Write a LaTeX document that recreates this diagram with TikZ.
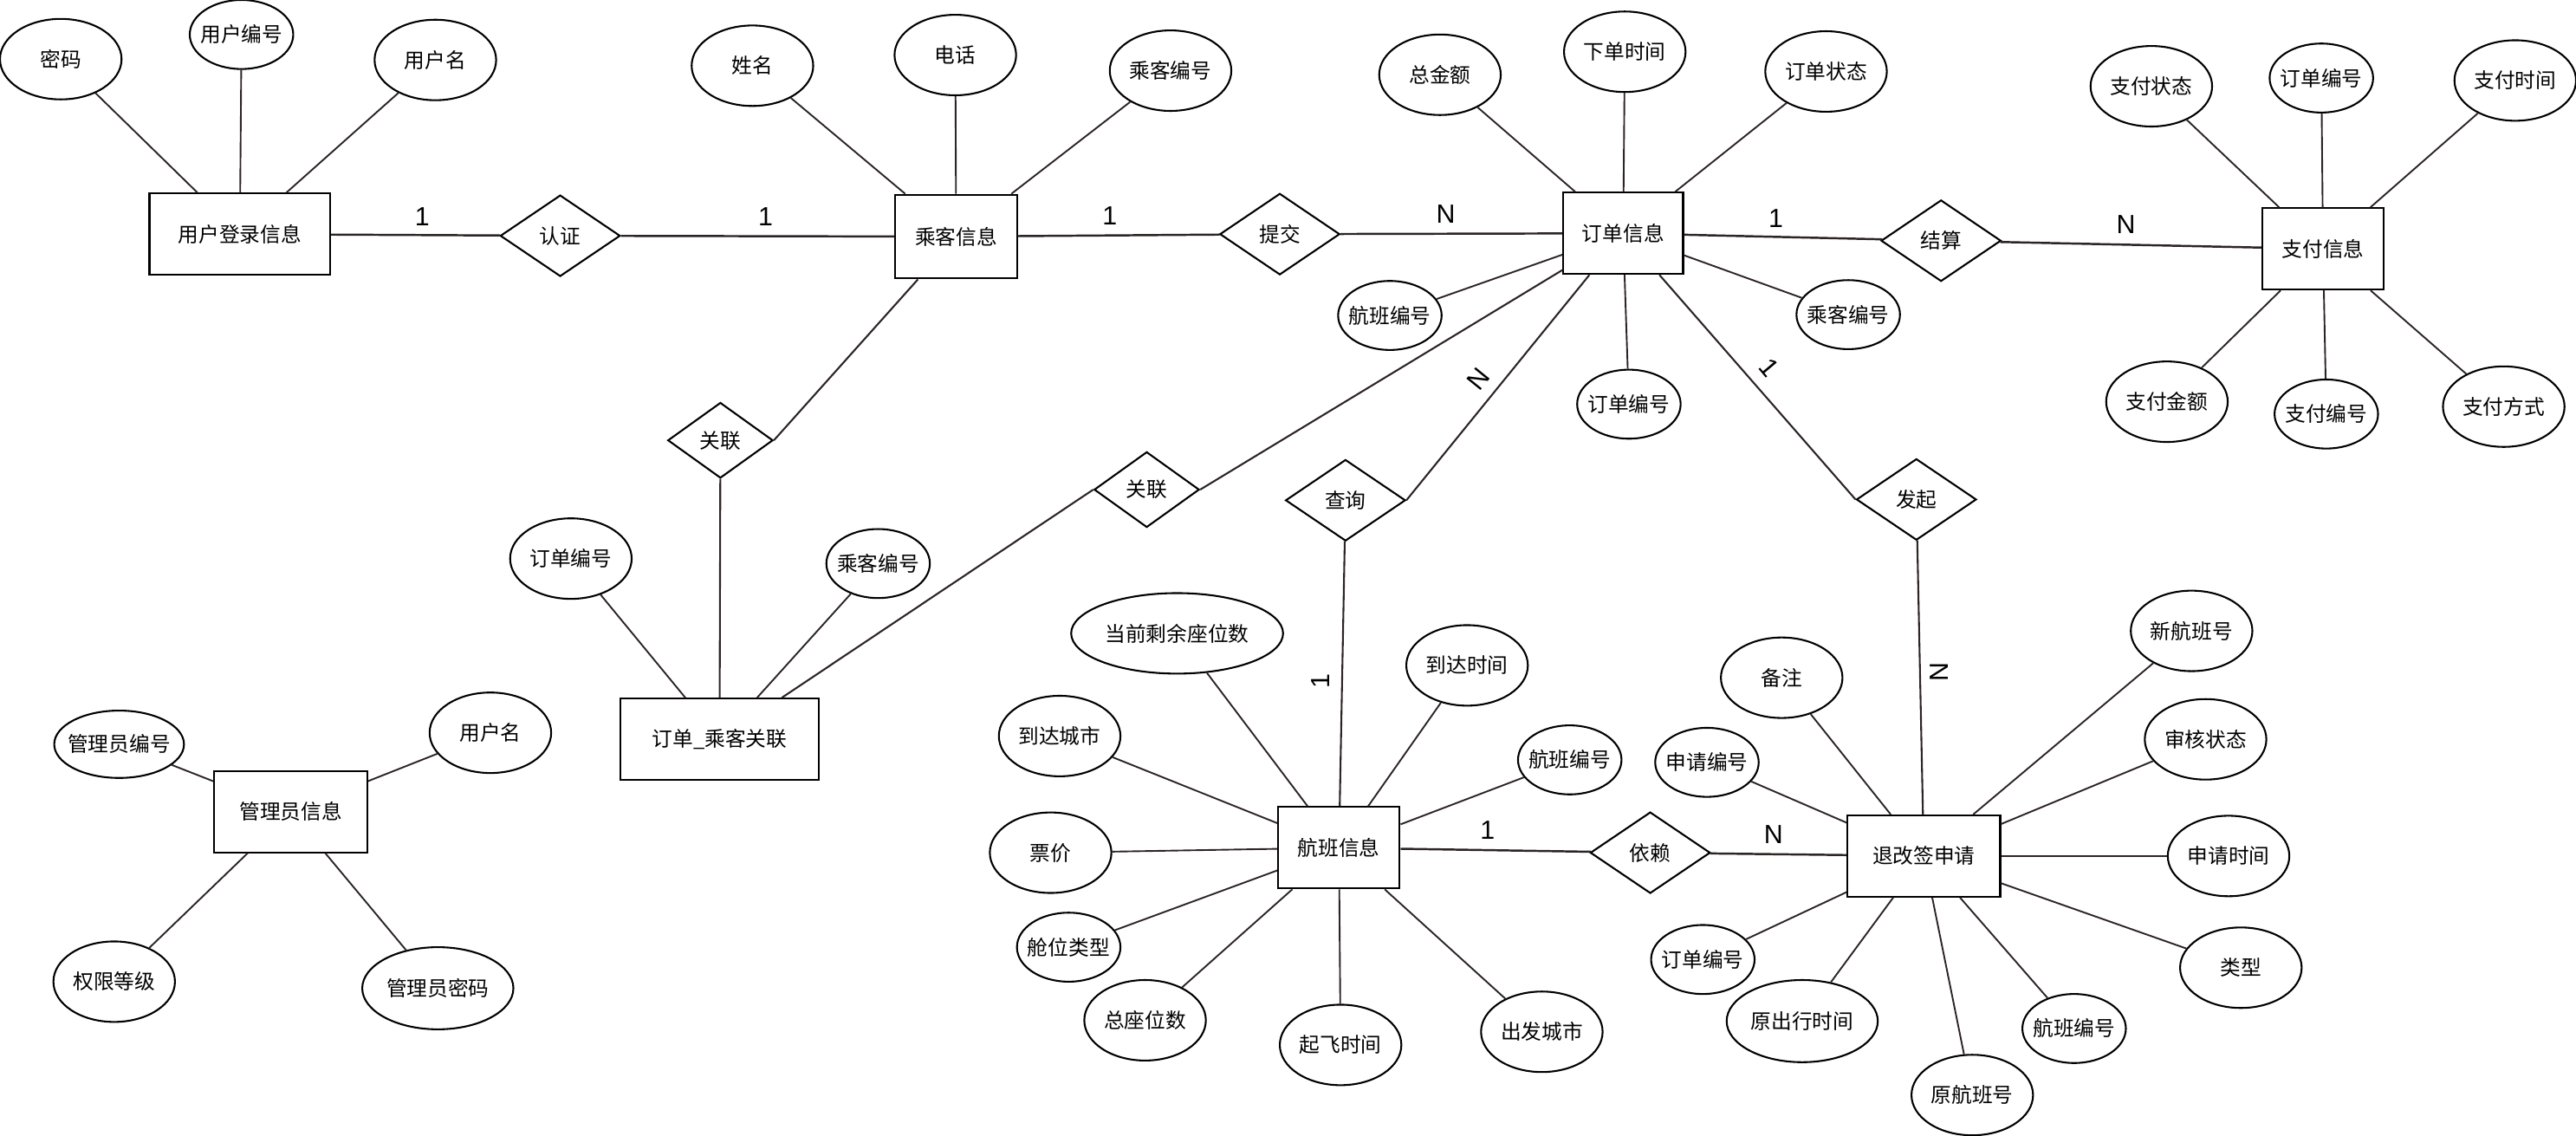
\documentclass[tikz,border=0pt]{standalone}
\usepackage{fontspec}
\setmainfont{Noto Sans CJK SC}
\newfontfamily\cardfont{Liberation Sans}
\usetikzlibrary{shapes.geometric}
\definecolor{linecol}{RGB}{45,36,36}
\newcommand{\lnk}[3][1pt]{\draw[line width=#1,linecol] (#2)--(#3);}

\tikzset{
  ent/.style={draw,line width=1.1pt,rectangle,minimum height=49.5pt,inner sep=0pt},
  rel/.style={draw,line width=1.1pt,diamond,minimum width=73pt,minimum height=49.5pt,inner sep=0pt},
  attr/.style={draw,line width=1.1pt,ellipse,minimum width=74pt,minimum height=49pt,inner xsep=-15pt,inner ysep=0pt},
  attrs/.style={attr,minimum width=63pt,minimum height=42pt},
  card/.style={font=\cardfont\fontsize{16}{16}\selectfont,inner sep=0pt}
}

\begin{document}
\begin{tikzpicture}[x=1pt,y=-1pt,font=\fontsize{12.5}{15}\selectfont]
  \useasboundingbox (0,0) rectangle (1568,691);

  % 用户登录信息
  \node[ent,minimum width=110pt] (user) at (146,142.5) {用户登录信息};
  \node[attr] (upw) at (37,36) {密码};
  \node[attrs] (uid) at (147,21) {用户编号};
  \node[attr] (uname) at (265,36.5) {用户名};
  \node[rel] (auth) at (341,143.5) {认证};

  % 乘客信息
  \node[ent,minimum width=74pt,minimum height=51pt] (pax) at (582,144) {乘客信息};
  \node[attr] (pname) at (458,40) {姓名};
  \node[attr] (ptel) at (581.5,33.5) {电话};
  \node[attr] (pid) at (712.5,43) {乘客编号};
  \node[rel] (submit) at (779,142.5) {提交};

  % 订单信息
  \node[ent,minimum width=73pt] (order) at (988,142) {订单信息};
  \node[attr] (osum) at (876.5,45.5) {总金额};
  \node[attr] (otime) at (989,31.5) {下单时间};
  \node[attr] (ostat) at (1111.5,43.5) {订单状态};
  \node[attrs] (ofid) at (846,192) {航班编号};
  \node[attrs] (oid) at (991.5,246) {订单编号};
  \node[attrs] (opid) at (1125,191.5) {乘客编号};
  \node[rel] (settle) at (1181.5,146.5) {结算};

  % 支付信息
  \node[ent,minimum width=74pt] (pay) at (1414,151.5) {支付信息};
  \node[attr] (paystat) at (1309.5,52.5) {支付状态};
  \node[attrs] (payoid) at (1413,47.5) {订单编号};
  \node[attr] (paytime) at (1531,49) {支付时间};
  \node[attr] (paysum) at (1319,244.5) {支付金额};
  \node[attrs] (payid) at (1416,252) {支付编号};
  \node[attr] (payway) at (1524,247.5) {支付方式};

  % 订单_乘客关联
  \node[rel,minimum width=64pt,minimum height=46pt] (rela) at (438.5,268) {关联};
  \node[rel,minimum width=64pt,minimum height=46pt] (relb) at (698,298) {关联};
  \node[ent,minimum width=120.5pt] (link) at (438,450) {订单\_乘客关联};
  \node[attr] (loid) at (347.5,340) {订单编号};
  \node[attrs] (lpid) at (534.5,343) {乘客编号};

  % 管理员信息
  \node[ent,minimum width=93pt] (admin) at (177,494) {管理员信息};
  \node[attr,minimum width=79pt,minimum height=41pt] (aid) at (72.5,453) {管理员编号};
  \node[attr] (aname) at (298.5,446) {用户名};
  \node[attr] (alevel) at (69.5,597.5) {权限等级};
  \node[attr,minimum width=92pt,minimum height=50pt] (apw) at (266.5,601.5) {管理员密码};

  % 航班信息
  \node[rel] (query) at (819,304.5) {查询};
  \node[ent,minimum width=74pt] (flight) at (815,516) {航班信息};
  \node[attr,minimum width=129pt] (fseat) at (716.5,385.5) {当前剩余座位数};
  \node[attr] (farrt) at (893,405) {到达时间};
  \node[attr] (farrc) at (645,448) {到达城市};
  \node[attrs] (fid) at (955.5,462.5) {航班编号};
  \node[attr] (fprice) at (639.5,519) {票价};
  \node[attrs] (fcls) at (650.5,576.5) {舱位类型};
  \node[attr] (ftotal) at (697,621) {总座位数};
  \node[attr] (fdept) at (816,636) {起飞时间};
  \node[attr] (fdepc) at (938.5,628) {出发城市};
  \node[rel] (dep) at (1004.5,519) {依赖};

  % 退改签申请
  \node[rel] (start) at (1166.5,304) {发起};
  \node[ent,minimum width=93pt] (refund) at (1171,521) {退改签申请};
  \node[attr] (rnew) at (1334,384) {新航班号};
  \node[attr] (rnote) at (1084.5,412.5) {备注};
  \node[attr] (rstat) at (1342.5,450) {审核状态};
  \node[attrs] (rid) at (1039,464) {申请编号};
  \node[attr] (rtime) at (1356.5,521) {申请时间};
  \node[attrs] (roid) at (1036.5,584) {订单编号};
  \node[attr] (rtype) at (1364,589) {类型};
  \node[attr,minimum width=92pt,minimum height=50pt] (rotime) at (1097,621.5) {原出行时间};
  \node[attrs] (rfid) at (1262.5,626) {航班编号};
  \node[attr] (rofid) at (1200.5,666.5) {原航班号};

  % 属性连线
  \foreach \a in {upw,uid,uname} {\lnk{user}{\a}}
  \foreach \a in {pname,ptel,pid} {\lnk{pax}{\a}}
  \foreach \a in {osum,otime,ostat,ofid,oid,opid} {\lnk{order}{\a}}
  \foreach \a in {paystat,payoid,paytime,paysum,payid,payway} {\lnk{pay}{\a}}
  \foreach \a in {loid,lpid} {\lnk{link}{\a}}
  \foreach \a in {aid,aname,alevel,apw} {\lnk{admin}{\a}}
  \foreach \a in {fseat,farrt,farrc,fid,fprice,fcls,ftotal,fdept,fdepc} {\lnk{flight}{\a}}
  \foreach \a in {rnew,rnote,rstat,rid,rtime,roid,rtype,rotime,rfid,rofid} {\lnk{refund}{\a}}

  % 联系
  \lnk[1.3pt]{user}{auth} \lnk[1.3pt]{auth}{pax}
  \lnk[1.3pt]{pax}{submit} \lnk[1.3pt]{submit}{order}
  \lnk[1.3pt]{order}{settle} \lnk[1.3pt]{settle}{pay}
  \lnk[1.1pt]{pax}{rela.east} \lnk[1.1pt]{rela}{link}
  \lnk[1.1pt]{link}{relb.west} \lnk[1.1pt]{relb.east}{order}
  \lnk[1.1pt]{order}{query.east} \lnk[1.1pt]{query}{flight}
  \lnk[1.1pt]{order}{start.west} \lnk[1.1pt]{start}{refund}
  \lnk[1.3pt]{flight}{dep} \lnk[1.3pt]{dep}{refund}

  % 基数
  \node[card] (k1) at (257,132) {1};
  \node[card] (k2) at (466,132) {1};
  \node[card] (k3) at (675.5,131.5) {1};
  \node[card] (k4) at (880,130.5) {N};
  \node[card] (k5) at (1081,133) {1};
  \node[card] (k6) at (1294,136.5) {N};
  \node[card,rotate=51] (k7) at (900,230.5) {N};
  \node[card,rotate=-50] (k8) at (1077,224) {1};
  \node[card,rotate=90] (k9) at (804,414.5) {1};
  \node[card,rotate=90] (k10) at (1180.5,409) {N};
  \node[card] (k11) at (905.5,505.5) {1};
  \node[card] (k12) at (1079.5,508) {N};
\end{tikzpicture}
\end{document}
